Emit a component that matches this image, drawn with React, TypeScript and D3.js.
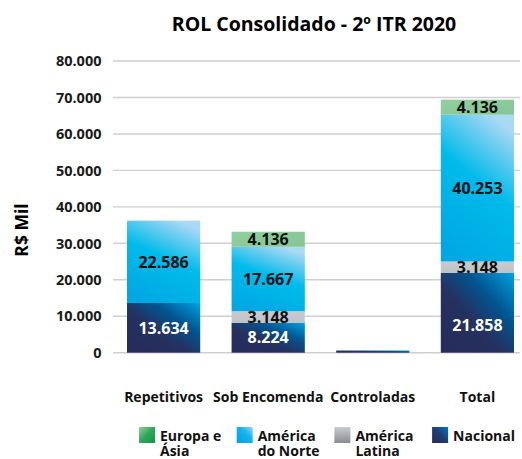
import React from "react";
import { scaleBand, scaleLinear, stack } from "d3";

const categories = ["Repetitivos", "Sob Encomenda", "Controladas", "Total"];
const seriesKeys = ["nacional", "americaLatina", "americaNorte", "europaAsia"];
const nacional = [13634, 8224, 600, 21858];
const americaLatina = [0, 3148, 0, 3148];
const americaNorte = [22586, 17667, 0, 40253];
const europaAsia = [0, 4136, 0, 4136];
const yTicks = [0, 10000, 20000, 30000, 40000, 50000, 60000, 70000, 80000];
const legendItems = [
  { key: "europaAsia", grad: "lEur", lines: ["Europa e", "Ásia"] },
  { key: "americaNorte", grad: "lNorte", lines: ["América", "do Norte"] },
  { key: "americaLatina", grad: "lLat", lines: ["América", "Latina"] },
  { key: "nacional", grad: "lNac", lines: ["Nacional"] },
];

const W = 522;
const H = 459;
const font = "'Open Sans', sans-serif";
const fmt = (v: number) => v.toLocaleString("de-DE");

const fills: Record<string, string> = {
  nacional: "url(#gNac)",
  americaLatina: "url(#gLat)",
  americaNorte: "url(#gNorte)",
  europaAsia: "url(#gEur)",
};

export default function App() {
  const rows = categories.map((c, i) => ({
    cat: c,
    nacional: nacional[i],
    americaLatina: americaLatina[i],
    americaNorte: americaNorte[i],
    europaAsia: europaAsia[i],
  }));
  const layers = stack<any>().keys(seriesKeys)(rows);

  const x = scaleBand().domain(categories).range([127, 514]).paddingInner(0.3).paddingOuter(0);
  const y = scaleLinear().domain([0, 80000]).range([352.7, 61]);

  return (
    <div style={{ position: "absolute", left: 0, top: 0 }}>
      <svg width={W} height={H} style={{ display: "block" }}>
        <defs>
          <linearGradient id="gNac" x1="0" y1="1" x2="1" y2="0">
            <stop offset="0" stopColor="#262b5b" />
            <stop offset="0.42" stopColor="#25315f" />
            <stop offset="0.68" stopColor="#00558f" />
            <stop offset="1" stopColor="#00a2e2" />
          </linearGradient>
          <linearGradient id="gNorte" x1="0.3" y1="1" x2="0.7" y2="0">
            <stop offset="0" stopColor="#00a8e3" />
            <stop offset="0.55" stopColor="#00bbea" />
            <stop offset="1" stopColor="#a9d9f5" />
          </linearGradient>
          <linearGradient id="gLat" x1="0" y1="0" x2="0" y2="1">
            <stop offset="0" stopColor="#c9cccf" />
            <stop offset="1" stopColor="#bfc2c6" />
          </linearGradient>
          <linearGradient id="gEur" x1="0" y1="0" x2="1" y2="1">
            <stop offset="0" stopColor="#93cfa0" />
            <stop offset="1" stopColor="#86c594" />
          </linearGradient>
          <linearGradient id="lNac" x1="0" y1="1" x2="1" y2="0">
            <stop offset="0" stopColor="#262b5b" />
            <stop offset="0.5" stopColor="#1f3c70" />
            <stop offset="1" stopColor="#0077bd" />
          </linearGradient>
          <linearGradient id="lNorte" x1="0" y1="1" x2="1" y2="0">
            <stop offset="0" stopColor="#00a0e0" />
            <stop offset="0.6" stopColor="#17b4ec" />
            <stop offset="1" stopColor="#9dd6f4" />
          </linearGradient>
          <linearGradient id="lLat" x1="0" y1="0" x2="0" y2="1">
            <stop offset="0" stopColor="#c8cbcf" />
            <stop offset="1" stopColor="#898c91" />
          </linearGradient>
          <linearGradient id="lEur" x1="0" y1="0" x2="1" y2="1">
            <stop offset="0" stopColor="#8fd0a0" />
            <stop offset="0.5" stopColor="#2ea75a" />
            <stop offset="1" stopColor="#119447" />
          </linearGradient>
        </defs>

        <text x={314} y={31} textAnchor="middle" fontFamily={font} fontWeight={700} fontSize={19.5} fill="#000">
          ROL Consolidado - 2º ITR 2020
        </text>

        <text
          transform={`translate(28,230) rotate(-90)`}
          textAnchor="middle"
          fontFamily={font}
          fontWeight={700}
          fontSize={17.5}
          fill="#000"
        >
          R$ Mil
        </text>

        {yTicks.map((t) => (
          <g key={t}>
            <line x1={113} x2={520} y1={y(t)} y2={y(t)} stroke="#cfcfcf" strokeWidth={1.4} />
            <text
              x={101.5}
              y={y(t)}
              dy="0.36em"
              textAnchor="end"
              fontFamily={font}
              fontWeight={700}
              fontSize={14.5}
              fill="#1a1a1a"
            >
              {fmt(t)}
            </text>
          </g>
        ))}

        {layers.map((layer) => (
          <g key={layer.key}>
            {layer.map((d, i) => {
              const v = d[1] - d[0];
              if (v <= 0) return null;
              return (
                <rect
                  key={i}
                  x={x(categories[i])}
                  width={x.bandwidth()}
                  y={y(d[1])}
                  height={y(d[0]) - y(d[1])}
                  fill={fills[layer.key]}
                />
              );
            })}
          </g>
        ))}

        {layers.map((layer) =>
          layer.map((d, i) => {
            const v = d[1] - d[0];
            if (v < 2000) return null;
            const mid = (y(d[0]) + y(d[1])) / 2;
            // the base segment labels sit low in the bar
            const ly = layer.key === "nacional" ? Math.max(mid, y(d[0]) - 27) : mid;
            return (
              <text
                key={layer.key + i}
                x={(x(categories[i]) as number) + x.bandwidth() / 2}
                y={ly}
                dy="0.36em"
                textAnchor="middle"
                fontFamily={font}
                fontWeight={700}
                fontSize={16}
                fill={layer.key === "nacional" ? "#fff" : "#111"}
              >
                {fmt(v)}
              </text>
            );
          })
        )}

        {categories.map((c) => (
          <text
            key={c}
            x={(x(c) as number) + x.bandwidth() / 2}
            y={402}
            textAnchor="middle"
            fontFamily={font}
            fontWeight={700}
            fontSize={14}
            fill="#111"
          >
            {c}
          </text>
        ))}

        {legendItems.map((it, i) => {
          const lx = 139 + i * 97.7;
          return (
            <g key={it.key} transform={`translate(${lx},427)`}>
              <rect width={16} height={16} fill={`url(#${it.grad})`} />
              <text fontFamily={font} fontWeight={700} fontSize={14} fill="#111">
                {it.lines.map((ln, j) => (
                  <tspan key={j} x={21} y={13.5 + j * 15.5}>
                    {ln}
                  </tspan>
                ))}
              </text>
            </g>
          );
        })}
      </svg>
    </div>
  );
}
